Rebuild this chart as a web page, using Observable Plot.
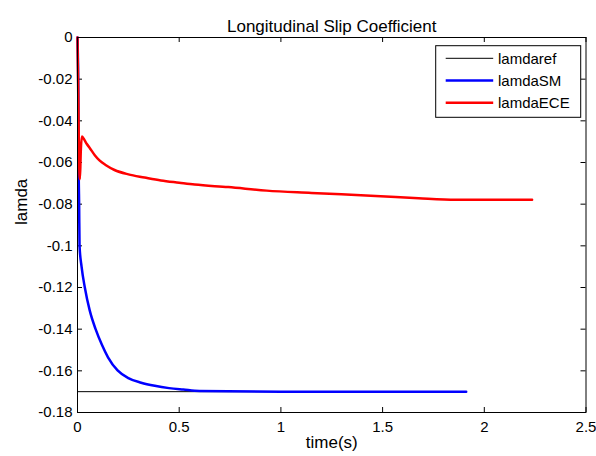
<!DOCTYPE html>
<html><head>
<meta charset="utf-8">
<script src="https://cdn.jsdelivr.net/npm/d3@7"></script>
<script src="https://cdn.jsdelivr.net/npm/@observablehq/plot@0.6"></script>
<style>
body{margin:0;background:#fff}
#c{width:596px;height:456px;font-family:Arial,"Liberation Sans",sans-serif}
</style>
</head><body><div id="c"></div>
<script>
const chartTitle = "Longitudinal Slip Coefficient";
const xLabel = "time(s)";
const yLabel = "lamda";
const seriesNames = ["lamdaref", "lamdaSM", "lamdaECE"];
const seriesColors = ["#000000", "#0000ff", "#ff0000"];

const refT = [0, 1.911];
const refV = [-0.17, -0.17];

const smT = [0, 0.004, 0.006, 0.008, 0.01, 0.02, 0.036, 0.06, 0.089, 0.12, 0.15, 0.197, 0.25, 0.313, 0.38, 0.45, 0.52, 0.6, 1.0, 1.5, 1.911];
const smV = [0, -0.026, -0.065, -0.08, -0.1, -0.11, -0.12, -0.131, -0.14, -0.1475, -0.1535, -0.1598, -0.1635, -0.1657, -0.1672, -0.1683, -0.169, -0.1697, -0.17, -0.17, -0.17];

const eceT = [0, 0.004, 0.008, 0.012, 0.016, 0.022, 0.03, 0.045, 0.06, 0.085, 0.108, 0.14, 0.182, 0.25, 0.33, 0.41, 0.5, 0.576, 0.741, 0.93, 1.15, 1.49, 1.677, 1.86, 2.235];
const eceV = [0, -0.03, -0.06, -0.068, -0.055, -0.0475, -0.0485, -0.051, -0.053, -0.0565, -0.059, -0.0613, -0.0636, -0.0657, -0.0672, -0.0686, -0.0697, -0.0706, -0.0718, -0.0735, -0.0746, -0.0762, -0.0772, -0.0779, -0.0779];

const xTicks = [0, 0.5, 1, 1.5, 2, 2.5];
const xTickLabels = ["0", "0.5", "1", "1.5", "2", "2.5"];
const yTicks = [0, -0.02, -0.04, -0.06, -0.08, -0.1, -0.12, -0.14, -0.16, -0.18];
const yTickLabels = ["0", "-0.02", "-0.04", "-0.06", "-0.08", "-0.1", "-0.12", "-0.14", "-0.16", "-0.18"];

const toRows = (ts, vs, s) => ts.map((t, i) => ({t, v: vs[i], s}));
const refRows = toRows(refT, refV, seriesNames[0]);
const smRows = toRows(smT, smV, seriesNames[1]);
const eceRows = toRows(eceT, eceV, seriesNames[2]);

const W = 596, H = 456, ML = 77, MR = 10.5, MT = 37, MB = 44;
const PW = W - ML - MR, PH = H - MT - MB, TL = 5;
const FS = 15, LFS = 17;

const chart = Plot.plot({
  width: W, height: H,
  marginLeft: ML, marginRight: MR, marginTop: MT, marginBottom: MB,
  style: {fontFamily: "Arial, 'Liberation Sans', sans-serif", fontSize: FS + "px", background: "#fff", color: "#000"},
  x: {domain: [0, 2.5]},
  y: {domain: [-0.18, 0]},
  marks: [
    Plot.axisX({ticks: xTicks, tickFormat: (d, i) => xTickLabels[i], tickSize: 0, tickPadding: 9, fontSize: FS, label: null}),
    Plot.axisY({ticks: yTicks, tickFormat: (d, i) => yTickLabels[i], tickSize: 0, tickPadding: 5, fontSize: FS, label: null}),
    Plot.tickX(xTicks, {x: d => d, insetTop: PH - TL, stroke: "#000"}),
    Plot.tickX(xTicks, {x: d => d, insetBottom: PH - TL, stroke: "#000"}),
    Plot.tickY(yTicks, {y: d => d, insetRight: PW - TL, stroke: "#000"}),
    Plot.tickY(yTicks, {y: d => d, insetLeft: PW - TL, stroke: "#000"}),
    Plot.line(refRows, {x: "t", y: "v", stroke: seriesColors[0], strokeWidth: 1}),
    Plot.line(smRows, {x: "t", y: "v", stroke: seriesColors[1], strokeWidth: 2.5, curve: "monotone-x"}),
    Plot.line(eceRows, {x: "t", y: "v", stroke: seriesColors[2], strokeWidth: 2.5, curve: "monotone-x"}),
    Plot.frame({stroke: "#000", strokeWidth: 1}),
    Plot.text([chartTitle], {frameAnchor: "top", dy: -17.4, fontSize: LFS, fill: "#000"}),
    Plot.text([xLabel], {frameAnchor: "bottom", dy: 35.6, fontSize: LFS, fill: "#000"}),
    Plot.text([yLabel], {frameAnchor: "left", dx: -56.4, rotate: -90, fontSize: LFS, fill: "#000"})
  ]
});

// legend box inside the axes (top-right)
const svg = d3.select(chart);
const lg = svg.append("g").attr("transform", "translate(435.7,45.7)");
lg.append("rect").attr("width", 145).attr("height", 71.6).attr("fill", "#fff").attr("stroke", "#000");
seriesNames.forEach((name, i) => {
  const y = 12.6 + i * 22.2;
  lg.append("line").attr("x1", 10).attr("x2", 57.5).attr("y1", y).attr("y2", y)
    .attr("stroke", seriesColors[i]).attr("stroke-width", i === 0 ? 1 : 2.5);
  lg.append("text").attr("x", 62.3).attr("y", y).attr("dy", "0.35em")
    .attr("text-anchor", "start").attr("font-size", FS).attr("fill", "#000").text(name);
});

document.getElementById("c").appendChild(chart);
</script>
</body></html>
